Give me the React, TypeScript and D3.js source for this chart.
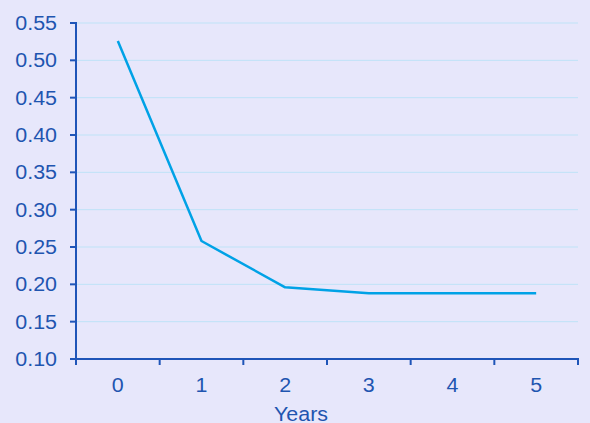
import React from "react";
import * as d3 from "d3";

const categories = ["0", "1", "2", "3", "4", "5"];
const values = [0.526, 0.258, 0.196, 0.188, 0.188, 0.188];
const yTicks = [0.1, 0.15, 0.2, 0.25, 0.3, 0.35, 0.4, 0.45, 0.5, 0.55];
const xTitle = "Years";

const W = 590;
const H = 423;
const left = 76;
const right = 578;
const top = 23;
const bottom = 359;
const axisColor = "#1F55B8";
const textColor = "#1F55B0";
const FS = 19.5;
const SX = 1.1;

export default function App() {
  const x = d3.scaleBand<string>().domain(categories).range([left, right]).padding(0);
  const y = d3.scaleLinear().domain([0.1, 0.55]).range([bottom, top]);
  const line = d3
    .line<number>()
    .x((_, i) => (x(categories[i]) as number) + x.bandwidth() / 2)
    .y((d) => y(d));
  const boundaries = categories.map((c) => x(c) as number).concat([right]);
  return (
    <svg
      width={W}
      height={H}
      style={{ position: "absolute", left: 0, top: 0, display: "block" }}
      fontFamily="'Liberation Sans', Arial, sans-serif"
    >
      <rect x={0} y={0} width={W} height={H} fill="#E7E7FB" />
      {yTicks.map((t) => (
        <line key={"g" + t} x1={left} x2={right} y1={y(t)} y2={y(t)} stroke="#BFE3F7" strokeWidth={1} />
      ))}
      {yTicks.map((t) => (
        <g key={"t" + t}>
          <line x1={left - 6} x2={left} y1={y(t)} y2={y(t)} stroke={axisColor} strokeWidth={2} />
          <text
            transform={`translate(57,${y(t)}) scale(${SX},1)`}
            dy="0.35em"
            textAnchor="end"
            fontSize={FS}
            fill={textColor}
          >
            {d3.format(".2f")(t)}
          </text>
        </g>
      ))}
      {boundaries.map((b, i) => (
        <line key={"xt" + i} x1={b} x2={b} y1={bottom} y2={bottom + 6} stroke={axisColor} strokeWidth={2} />
      ))}
      {categories.map((c) => (
        <text
          key={"xl" + c}
          transform={`translate(${(x(c) as number) + x.bandwidth() / 2},391.5) scale(${SX},1)`}
          textAnchor="middle"
          fontSize={FS}
          fill={textColor}
        >
          {c}
        </text>
      ))}
      <line x1={left} x2={left} y1={top - 1} y2={bottom + 6} stroke={axisColor} strokeWidth={2} />
      <line x1={left - 6} x2={right + 1} y1={bottom} y2={bottom} stroke={axisColor} strokeWidth={2} />
      <text
        transform={`translate(301,421) scale(${SX},1)`}
        textAnchor="middle"
        fontSize={FS}
        fill={textColor}
      >
        {xTitle}
      </text>
      <path d={line(values) || ""} fill="none" stroke="#00A2E6" strokeWidth={2.5} strokeLinejoin="round" />
    </svg>
  );
}
